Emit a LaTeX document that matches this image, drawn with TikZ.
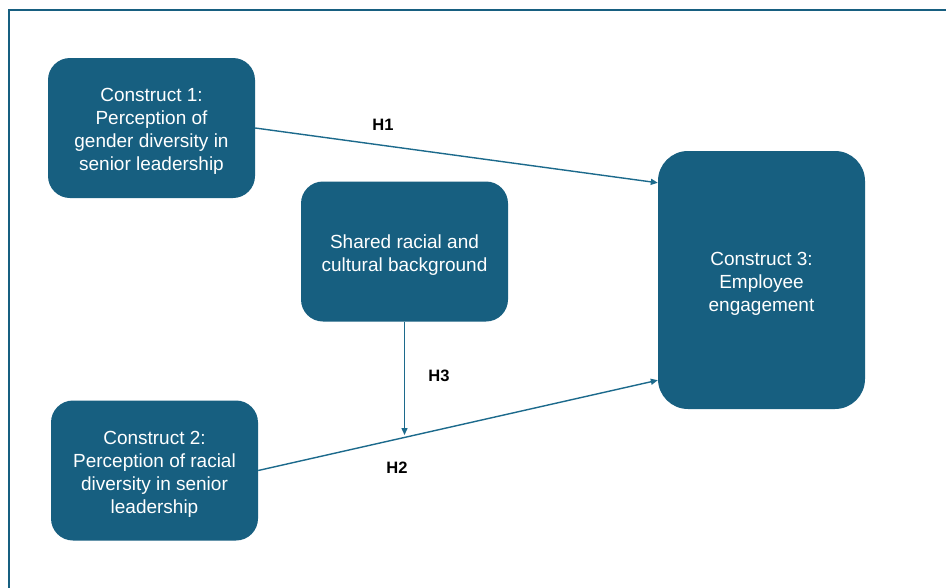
\documentclass[tikz,border=0pt]{standalone}
\usepackage{fontspec}
\setmainfont{Liberation Sans}
\usetikzlibrary{arrows.meta}
\definecolor{boxblue}{HTML}{175F80}
\definecolor{linkblue}{HTML}{1C6A8C}
\newcommand{\boxtxt}[1]{\raisebox{0pt}[\dimexpr\height+7pt\relax]{\begin{tabular}{@{}c@{}}#1\end{tabular}}}
\begin{document}
\begin{tikzpicture}[x=1pt,y=-1pt,
  cbox/.style={fill=boxblue,draw=none,rounded corners=22pt,inner sep=0pt,
    minimum width=207pt,minimum height=140pt,text=white,
    font=\fontsize{19}{23}\selectfont},
  arr/.style={draw=linkblue,line width=1.4pt,-{Triangle[length=7pt,width=6pt]}},
  hlab/.style={font=\fontsize{16.5}{19}\selectfont\bfseries,text=black,inner sep=0pt}]
\useasboundingbox (0,0) rectangle (946,587);
\fill[white] (0,0) rectangle (946,587);
\draw[boxblue,line width=2pt] (9,588) -- (9,10) -- (947,10);
\node[cbox] (b1) at (151.5,128) {\boxtxt{Construct 1:\\Perception of\\gender diversity in\\senior leadership}};
\node[cbox] (sh) at (404.5,251.5) {\boxtxt{Shared racial and\\cultural background}};
\node[cbox] (b2) at (154.5,470.5) {\boxtxt{Construct 2:\\Perception of racial\\diversity in senior\\leadership}};
\node[cbox,minimum height=258pt,rounded corners=30pt] (b3) at (761.5,280) {\boxtxt{Construct 3:\\Employee\\engagement}};
\coordinate (m) at (404.5,435);
\draw[arr] (b1.east) -- ([yshift=-32pt]b3.north west);
\draw[arr] (b2.east) -- ([yshift=29pt]b3.south west);
\draw[arr] (sh.south) -- (m);
\node[hlab] (h1) at (383,125) {H1};
\node[hlab] (h2) at (397,468) {H2};
\node[hlab] (h3) at (439,376) {H3};
\end{tikzpicture}
\end{document}
